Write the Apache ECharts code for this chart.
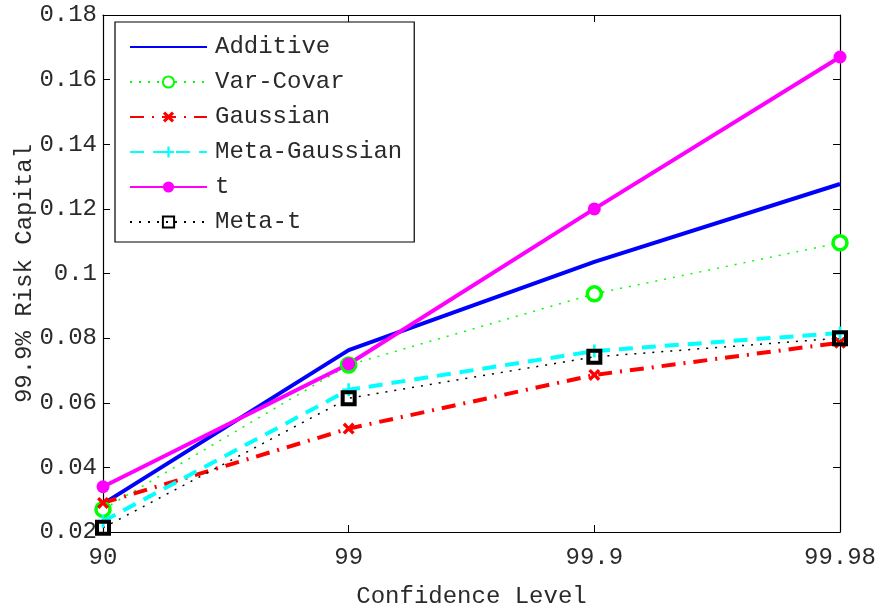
<!DOCTYPE html>
<html><head><meta charset="utf-8">
<script src="https://cdn.jsdelivr.net/npm/echarts@6/dist/echarts.min.js"></script>
<style>html,body{margin:0;padding:0;background:#fff}#c{width:882px;height:609px}</style>
</head><body><div id="c"></div>
<script>
const categories = ['90', '99', '99.9', '99.98'];
const additive = [0.0287, 0.0763, 0.1036, 0.1277];
const varCovar = [0.0270, 0.0717, 0.0937, 0.1095];
const gaussian = [0.0290, 0.0520, 0.0686, 0.0786];
const metaGaussian = [0.0233, 0.0640, 0.0760, 0.0816];
const tSeries = [0.0340, 0.0720, 0.1200, 0.1670];
const metaT = [0.0213, 0.0614, 0.0742, 0.0800];
const yMin = 0.02, yMax = 0.18, yStep = 0.02;

const font = 'Liberation Mono';
const txt = '#2a2a2a';
const crossPath = 'path://M2,0 L5,3 L8,0 L10,2 L7,5 L10,8 L8,10 L5,7 L2,10 L0,8 L3,5 L0,2 Z';
const plusPath = 'path://M4,0 H6 V4 H10 V6 H6 V10 H4 V6 H0 V4 H4 Z';

const chart = echarts.init(document.getElementById('c'));
chart.setOption({
  animation: false,
  textStyle: { fontFamily: font, color: txt },
  grid: { left: 103, right: 42, top: 15, bottom: 77, containLabel: false, outerBoundsMode: 'none' },
  legend: {
    orient: 'vertical', left: 115, top: 22,
    backgroundColor: '#fff', borderColor: '#000', borderWidth: 1.2,
    padding: [13, 12, 8, 14],
    itemWidth: 77, itemHeight: 14, itemGap: 11,
    textStyle: { fontFamily: font, fontSize: 24, color: txt, padding: [0, 0, 0, 3] },
    data: [
      { name: 'Additive', itemStyle: { opacity: 0 } },
      'Var-Covar', 'Gaussian', 'Meta-Gaussian', 't', 'Meta-t'
    ]
  },
  xAxis: [{
    type: 'category', data: categories, boundaryGap: false,
    name: 'Confidence Level', nameLocation: 'middle', nameGap: 53, nameMoveOverlap: false,
    nameTextStyle: { fontFamily: font, fontSize: 24, color: txt },
    axisLine: { lineStyle: { color: '#000', width: 1.2 } },
    axisTick: { inside: true, length: 7, alignWithLabel: true, lineStyle: { color: '#000' } },
    axisLabel: { fontFamily: font, fontSize: 24, color: txt, margin: 14 },
    splitLine: { show: false }
  }, {
    type: 'category', data: categories, boundaryGap: false, position: 'top',
    axisLine: { lineStyle: { color: '#000', width: 1.2 } },
    axisTick: { inside: true, length: 7, lineStyle: { color: '#000' } },
    axisLabel: { show: false }, splitLine: { show: false }
  }],
  yAxis: [{
    type: 'value', min: yMin, max: yMax, interval: yStep,
    name: '99.9% Risk Capital', nameLocation: 'middle', nameGap: 66, nameMoveOverlap: false,
    nameTextStyle: { fontFamily: font, fontSize: 24, color: txt },
    axisLine: { show: true, lineStyle: { color: '#000', width: 1.2 } },
    axisTick: { show: true, inside: true, length: 7, lineStyle: { color: '#000' } },
    axisLabel: { fontFamily: font, fontSize: 24, color: txt, margin: 6,
      formatter: v => String(parseFloat(v.toFixed(4))) },
    splitLine: { show: false }
  }, {
    type: 'value', min: yMin, max: yMax, interval: yStep, position: 'right',
    axisLine: { show: true, lineStyle: { color: '#000', width: 1.2 } },
    axisTick: { show: true, inside: true, length: 7, lineStyle: { color: '#000' } },
    axisLabel: { show: false }, splitLine: { show: false }
  }],
  series: [
    { name: 'Additive', type: 'line', data: additive, showSymbol: false, symbol: 'none',
      lineStyle: { color: '#0000ff', width: 4 }, itemStyle: { color: '#0000ff' } },
    { name: 'Var-Covar', type: 'line', data: varCovar, symbol: 'circle', symbolSize: 14,
      lineStyle: { color: '#00ff00', width: 1.5, type: [2, 7] },
      itemStyle: { color: '#fff', borderColor: '#00ff00', borderWidth: 3.5 } },
    { name: 'Gaussian', type: 'line', data: gaussian, symbol: crossPath, symbolSize: 12,
      lineStyle: { color: '#ff0000', width: 4, type: [14, 8, 2, 8] },
      itemStyle: { color: '#ff0000' } },
    { name: 'Meta-Gaussian', type: 'line', data: metaGaussian, symbol: plusPath, symbolSize: 13,
      lineStyle: { color: '#00ffff', width: 4, type: [14, 9] },
      itemStyle: { color: '#00ffff' } },
    { name: 't', type: 'line', data: tSeries, symbol: 'circle', symbolSize: 13,
      lineStyle: { color: '#ff00ff', width: 4 },
      itemStyle: { color: '#ff00ff' } },
    { name: 'Meta-t', type: 'line', data: metaT, symbol: 'rect', symbolSize: 12,
      lineStyle: { color: '#000', width: 1.5, type: [2, 7] },
      itemStyle: { color: 'rgba(0,0,0,0)', borderColor: '#000', borderWidth: 4 } }
  ]
});
</script></body></html>
